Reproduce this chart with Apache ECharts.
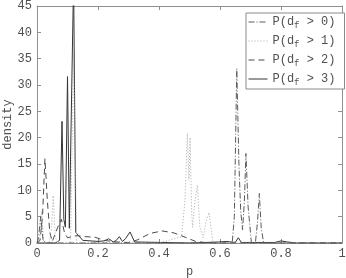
<!DOCTYPE html>
<html>
<head>
<meta charset="utf-8">
<script src="https://cdn.jsdelivr.net/npm/echarts@6/dist/echarts.min.js"></script>
<style>html,body{margin:0;padding:0;background:#fff}#c{width:346px;height:278px}</style>
</head>
<body>
<div id="c"></div>
<script>
// ---- data ----
var xTicks = [0, 0.2, 0.4, 0.6, 0.8, 1];
var yTicks = [0, 5, 10, 15, 20, 25, 30, 35, 40, 45];
var seriesNames = ['P(d_f > 0)', 'P(d_f > 1)', 'P(d_f > 2)', 'P(d_f > 3)'];

var p0X = [0, 0.005, 0.012, 0.02, 0.03, 0.6, 0.64, 0.647, 0.655, 0.662, 0.668, 0.674, 0.68, 0.685, 0.692, 0.703, 0.716, 0.723, 0.729, 0.735, 0.743, 0.76, 1];
var p0Y = [0, 1, 5, 0.5, 0, 0, 0, 5, 33.1, 15, 6, 2.5, 8, 17, 7, 0, 0, 4, 9.4, 3, 0, 0, 0];

var p1X = [0, 0.008, 0.015, 0.022, 0.04, 0.048, 0.053, 0.06, 0.07, 0.11, 0.12, 0.13, 0.15, 0.4, 0.474, 0.485, 0.493, 0.498, 0.502, 0.507, 0.51, 0.518, 0.526, 0.534, 0.545, 0.554, 0.564, 0.577, 0.6, 1];
var p1Y = [0, 0, 6, 0, 0, 3, 9, 1, 0, 0, 36, 0, 0, 0, 1.2, 8, 20.8, 12, 20, 6, 3, 8, 11, 3, 1, 4, 5.8, 0, 0, 0];

var p2X = [0, 0.01, 0.018, 0.026, 0.034, 0.042, 0.05, 0.058, 0.068, 0.08, 0.09, 0.1, 0.13, 0.16, 0.19, 0.22, 0.26, 0.3, 0.33, 0.37, 0.41, 0.45, 0.49, 0.52, 0.55, 0.6, 1];
var p2Y = [0, 0.5, 5, 16, 8, 2, 0.3, 1.5, 3, 4.5, 2, 1, 1.4, 1.2, 1.1, 0.5, 0.2, 0.1, 0.6, 1.8, 2.3, 1.9, 1, 0.3, 0.1, 0, 0];

var p3X = [0, 0.06, 0.074, 0.082, 0.088, 0.093, 0.1, 0.106, 0.112, 0.12, 0.127, 0.135, 0.15, 0.2, 0.22, 0.235, 0.25, 0.26, 0.27, 0.28, 0.29, 0.305, 0.32, 0.5, 0.6, 0.62, 0.65, 0.66, 0.67, 0.7, 0.78, 0.8, 0.82, 0.85, 1];
var p3Y = [0, 0, 0.5, 23.1, 4.5, 3, 31.6, 2.8, 3, 50, 2, 1.5, 0.5, 0.3, 0.4, 0.8, 0.2, 0.5, 1.2, 0.3, 0.8, 2.1, 0.2, 0, 0.2, 0.3, 0.1, 1, 0.1, 0.1, 0.1, 0.4, 0.2, 0, 0];

function pairs(xs, ys) { return xs.map(function (x, i) { return [x, ys[i]]; }); }

var FONT = 'Liberation Mono';
var AX = '#909090';
var TXT = '#505050';

var chart = echarts.init(document.getElementById('c'), null, {renderer: 'canvas'});

function legendFmt(name) {
  var parts = name.split('_');
  var rest = parts[1];
  return '{a|' + parts[0] + '}{s|' + rest.charAt(0) + '}{a|' + rest.slice(1) + '}';
}

var styles = [
  {color: '#5a5a5a', type: [6, 2, 1, 2]},
  {color: '#a8a8a8', type: [1, 2]},
  {color: '#4a4a4a', type: [6, 4]},
  {color: '#353535', type: 'solid'}
];
var datas = [pairs(p0X, p0Y), pairs(p1X, p1Y), pairs(p2X, p2Y), pairs(p3X, p3Y)];

var commonAxis = {
  axisLine: {show: true, onZero: false, lineStyle: {color: AX, width: 1}},
  axisTick: {show: true, inside: true, length: 4, lineStyle: {color: AX}},
  splitLine: {show: false}
};

chart.setOption({
  animation: false,
  backgroundColor: '#fff',
  textStyle: {fontFamily: FONT},
  grid: {left: 37, right: 4, top: 6, bottom: 35, containLabel: false, outerBoundsMode: 'none'},
  legend: {
    orient: 'vertical',
    left: 246, top: 13,
    padding: [3, 9, 2, 2],
    itemGap: 5,
    itemWidth: 19,
    itemHeight: 14,
    borderColor: '#8a8a8a', borderWidth: 1,
    backgroundColor: '#fff',
    itemStyle: {opacity: 0},
    lineStyle: {width: 1},
    data: seriesNames,
    formatter: legendFmt,
    textStyle: {
      fontFamily: FONT, color: TXT, fontSize: 12,
      rich: {
        a: {fontFamily: FONT, fontSize: 12, color: TXT},
        s: {fontFamily: FONT, fontSize: 9, color: TXT, padding: [7, 0, 0, 0]}
      }
    }
  },
  xAxis: [
    Object.assign({}, commonAxis, {
      type: 'value', min: xTicks[0], max: xTicks[xTicks.length - 1], interval: 0.2,
      name: 'p', nameLocation: 'middle', nameGap: 23, nameMoveOverlap: false,
      nameTextStyle: {fontFamily: FONT, fontSize: 12, color: TXT},
      axisLabel: {fontFamily: FONT, fontSize: 12, color: TXT, margin: 5}
    }),
    Object.assign({}, commonAxis, {
      type: 'value', position: 'top', min: xTicks[0], max: xTicks[xTicks.length - 1], interval: 0.2,
      axisLabel: {show: false}
    })
  ],
  yAxis: [
    Object.assign({}, commonAxis, {
      type: 'value', min: yTicks[0], max: yTicks[yTicks.length - 1], interval: 5,
      name: 'density', nameLocation: 'middle', nameGap: 23, nameRotate: 90, nameMoveOverlap: false,
      nameTextStyle: {fontFamily: FONT, fontSize: 12, color: TXT},
      axisLabel: {fontFamily: FONT, fontSize: 12, color: TXT, margin: 5}
    }),
    Object.assign({}, commonAxis, {
      type: 'value', position: 'right', min: yTicks[0], max: yTicks[yTicks.length - 1], interval: 5,
      axisLabel: {show: false}
    })
  ],
  series: seriesNames.map(function (n, i) {
    return {
      name: n, type: 'line', data: datas[i], symbol: 'none', showSymbol: false,
      clip: true, z: 10 - i,
      lineStyle: {color: styles[i].color, width: 1, type: styles[i].type},
      itemStyle: {color: styles[i].color}
    };
  })
});
</script>
</body>
</html>
